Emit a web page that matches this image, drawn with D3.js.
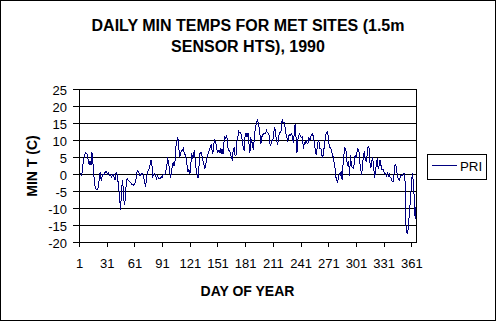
<!DOCTYPE html>
<html>
<head>
<meta charset="utf-8">
<script src="https://cdn.jsdelivr.net/npm/d3@7"></script>
<style>
  html, body { margin: 0; padding: 0; background: #fff; }
  svg { display: block; }
  text { font-family: "Liberation Sans", Arial, sans-serif; fill: #000; }
</style>
</head>
<body>
<div id="chart"></div>
<script>
// ---- data (daily minimum temperature, PRI site, 1990) ----
const titleLines = ["DAILY MIN TEMPS FOR MET SITES (1.5m", "SENSOR HTS), 1990"];
const xTitle = "DAY OF YEAR";
const yTitle = "MIN T (C)";
const seriesName = "PRI";
const yTicks = [-20, -15, -10, -5, 0, 5, 10, 15, 20, 25];
const xTickLabels = [1, 31, 61, 91, 121, 151, 181, 211, 241, 271, 301, 331, 361];

// days 1-72
const priJanMar = [0.5, 0.3, -0.3, 2.5, 4.5, 5.5, 6.5, 6.2, 6, 4, 3, 4, 2.8, 6.5, 3.5, 0, -3, -4.2, -4.4, -4.3,
  -3.5, -1, 0.8, -2, -0.5, 0, 0, 0.5, 1, 0.5, 0, 0.5, -0.3, 0, -0.7, -0.2, 0, -0.8, -1.7, 0.3,
  0.5, -1.5, -4, -7, -10.3, -5, -1.5, -4.5, -9, -7.5, -3, -1.2, -1.7, -1.8, -2.2, -2.5, -2.8, -3, -3.2, -2.7,
  -2.5, -0.8, 1.3, 1, 0.5, -0.3, 0, 0.3, 0.4, -0.7, -2, -3.8];
// days 73-146
const priMarMay = [-1.5, 0.5, 1.1, 1.7, 3, 4.2, 2.5, -0.5, 0.1, 0.3, -0.5, -1.3, -0.1, -1.3, -1.2, -1.1, -0.7, -0.9,
  -0.2, 0.1, -0.1, 1.1, 2.3, 5, 3.2, 1.5, -1.1, 0.5, 2.5, 3.7, 2.5, 4.2, 8.3, 9.6, 10.9, 8.1, 5.2, 6.2,
  7, 7, 7.6, 6, 6, 4.7, 2.7, 0.7, 1.5, 0.1, 2.5, 6.4, 4.7, 6, 7.2, 3.2, 1.3, -0.1, -1.1, 2.7,
  6.2, 6.6, 5.8, 4.2, 3.4, 1.5, 2.5, 4.4, 5.4, 6.4, 7.2, 7.9, 8.8, 7.2, 6.2, 8.9];
// days 147-220
const priMayAug = [10.1, 9.5, 7.6, 6.6, 7, 6.7, 7.4, 6.2, 7.6, 6, 9.5, 11.1, 10.6, 11.6, 8.1, 7.2, 7, 6.4, 4.7, 4.4,
  7.2, 8, 5.7, 5.5, 9.6, 10.9, 12.7, 12.3, 12.3, 11.3, 9.6, 7.6, 7.2, 12.1, 12.1, 11.1, 12.1, 9.1, 6.2, 10.6,
  10.1, 8.1, 7.2, 11.6, 13.5, 15, 16, 15.2, 14, 11.6, 9.1, 11.1, 11.6, 12.1, 12.1, 12.1, 13, 12.3, 12.1, 11.6,
  8.6, 9.1, 10.1, 10.1, 12.5, 14, 11.6, 10.1, 8.6, 10.6, 12.1, 12.5, 13, 16.3];
// days 221-292
const priAugOct = [15.2, 15.5, 14.2, 12.1, 11.1, 9.6, 11.3, 11.8, 11.5, 12, 11.3, 9.3, 11.6, 14.8, 11.1, 6.2, 10.1, 11.5,
  11.9, 11.1, 10.9, 11.1, 7.4, 9.3, 9.1, 10, 9.1, 9.3, 10.8, 10.1, 11.3, 11.6, 12.3, 10.3, 9.3, 6.7, 5.7, 8.1,
  9.9, 9.6, 7.6, 7.6, 5.7, 5, 6.9, 9.1, 11.6, 12.1, 12.5, 11.3, 8.1, 7.9, 7.5, 6.2, 5.4, 4, 2.6, -0.5,
  -1.7, -2.5, -0.9, 0.3, -0.2, 0.9, -1.7, 3.2, 6.2, 7.9, 7.4, 4.2, 2.5, 4];
// days 293-365
const priOctDec = [-0.5, 5.7, 2.7, 2.1, 1.9, 3, 5.7, 5, 6.4, 7.5, 7.4, 3.7, 1.8, -0.2, 2.3, 5.9, 6.4, 4.7, 4, 5.7,
  8.1, 8.1, 3.7, 1.8, 3.7, 5, 2.7, -0.9, 0.5, 3.2, 4.7, 1.8, 2.7, 4.2, 2.7, 1.5, 1.6, 1.1, 0.3, 0.1,
  -0.5, 0.3, -0.5, 0.1, -0.9, -1.1, -1.9, -2.2, -0.2, 2.5, 3, 1.1, -0.7, -1.3, -1.7, -0.5, -0.2, -0.3, 0.1, 0.5,
  -1, -15, -17, -17.3, -14, -11, -7, -3, 0.3, -2, -6.5, -13, -9.5];

const priValues = [].concat(priJanMar, priMarMay, priMayAug, priAugOct, priOctDec);

// ---- drawing ----
const W = 498, H = 322;
const svg = d3.select("#chart").append("svg").attr("width", W).attr("height", H);

svg.append("rect").attr("x", 0.5).attr("y", 0.5).attr("width", 495).attr("height", 320)
  .attr("fill", "#fff").attr("stroke", "#000").attr("stroke-width", 1);

const plot = { left: 79, right: 416, top: 89, bottom: 242 };
const x = d3.scaleLinear().domain([0.5, priValues.length + 0.5]).range([plot.left, plot.right]);
const y = d3.scaleLinear().domain([-20, 25]).range([plot.bottom, plot.top]);

// gridlines
svg.append("g").selectAll("line").data(yTicks).join("line")
  .attr("x1", plot.left).attr("x2", plot.right + 0.5)
  .attr("y1", d => y(d) + 0.5).attr("y2", d => y(d) + 0.5)
  .attr("stroke", "#000").attr("stroke-width", 1).attr("shape-rendering", "crispEdges");

// plot frame
svg.append("rect").attr("x", plot.left + 0.5).attr("y", plot.top + 0.5)
  .attr("width", plot.right - plot.left).attr("height", plot.bottom - plot.top)
  .attr("fill", "none").attr("stroke", "#000").attr("shape-rendering", "crispEdges");

// y axis
const yAxis = svg.append("g").attr("transform", `translate(${plot.left},0)`)
  .call(d3.axisLeft(y).tickValues(yTicks).tickSize(6).tickSizeOuter(0).tickPadding(6)
    .tickFormat(d => String(d)));
yAxis.selectAll("text").attr("font-size", 13).attr("dy", "0.42em")
  .style("font-family", '"Liberation Sans", Arial, sans-serif');
yAxis.selectAll("line,path").attr("stroke", "#000").attr("shape-rendering", "crispEdges");

// x axis (ticks on category boundaries)
const xAxis = svg.append("g").attr("transform", `translate(0,${plot.bottom})`)
  .call(d3.axisBottom(x).tickValues(xTickLabels.map(d => d - 0.5)).tickSize(5).tickSizeOuter(0).tickPadding(12)
    .tickFormat(d => String(d + 0.5)));
xAxis.selectAll("text").attr("font-size", 13)
  .style("font-family", '"Liberation Sans", Arial, sans-serif');
xAxis.selectAll("line,path").attr("stroke", "#000").attr("shape-rendering", "crispEdges");

// series line
const line = d3.line().x((d, i) => x(i + 1) + 0.5).y(d => y(d) + 0.5);
svg.append("path").datum(priValues).attr("d", line)
  .attr("fill", "none").attr("stroke", "#000080").attr("stroke-width", 1)
  .attr("shape-rendering", "crispEdges");

// titles
svg.append("g").selectAll("text").data(titleLines).join("text")
  .attr("x", 248).attr("y", (d, i) => 31 + i * 21)
  .attr("text-anchor", "middle").attr("font-size", 16).attr("font-weight", "bold").text(d => d);

svg.append("text").attr("x", 247.5).attr("y", 296).attr("text-anchor", "middle")
  .attr("font-size", 14).attr("font-weight", "bold").text(xTitle);

svg.append("text").attr("transform", "translate(37,166) rotate(-90)").attr("text-anchor", "middle")
  .attr("font-size", 14).attr("font-weight", "bold").text(yTitle);

// legend
const lg = svg.append("g");
lg.append("rect").attr("x", 427.5).attr("y", 154.5).attr("width", 59).attr("height", 25)
  .attr("fill", "#fff").attr("stroke", "#000");
lg.append("line").attr("x1", 432).attr("x2", 457).attr("y1", 165.5).attr("y2", 165.5)
  .attr("stroke", "#000080").attr("stroke-width", 1);
lg.append("text").attr("x", 460).attr("y", 170.5).attr("font-size", 13.3).text(seriesName);
</script>
</body>
</html>
